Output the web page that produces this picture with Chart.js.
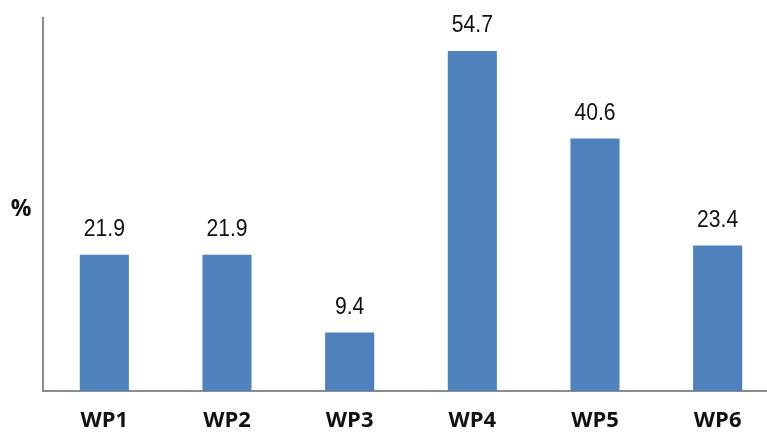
<!DOCTYPE html>
<html>
<head>
<meta charset="utf-8">
<script src="https://cdn.jsdelivr.net/npm/chart.js@4.4.1/dist/chart.umd.min.js"></script>
<style>
  html, body { margin: 0; padding: 0; background: #fff; overflow: hidden; }
  #wrap { width: 800px; height: 432px; position: relative; }
</style>
</head>
<body>
<div id="wrap"><canvas id="chart"></canvas></div>
<script>
const categories = ["WP1", "WP2", "WP3", "WP4", "WP5", "WP6"];
const percentValues = [21.9, 21.9, 9.4, 54.7, 40.6, 23.4];
const valueLabels = ["21.9", "21.9", "9.4", "54.7", "40.6", "23.4"];
const axisLabel = "%";

// value labels above the bars + the "%" axis label
const labelsPlugin = {
  id: "barLabels",
  afterDatasetsDraw(chart) {
    const ctx = chart.ctx;
    const meta = chart.getDatasetMeta(0);
    ctx.save();
    ctx.fillStyle = "#111";
    ctx.font = "24px 'Liberation Sans', sans-serif";
    ctx.textAlign = "center";
    ctx.textBaseline = "alphabetic";
    meta.data.forEach((bar, i) => {
      // squeeze horizontally to look like a narrow face
      ctx.save();
      ctx.translate(bar.x, bar.y - 19);
      ctx.scale(0.88, 1);
      ctx.fillText(valueLabels[i], 0, 0);
      ctx.restore();
    });
    ctx.textBaseline = "middle";
    ctx.font = "bold 23px 'Open Sans', sans-serif";
    ctx.fillText(axisLabel, 21, 209);
    ctx.restore();
  }
};

const chart = new Chart(document.getElementById("chart"), {
  type: "bar",
  data: {
    labels: categories,
    datasets: [{
      data: percentValues,
      backgroundColor: "#4F81BD",
      barPercentage: 0.4,
      categoryPercentage: 1
    }]
  },
  options: {
    responsive: true,
    maintainAspectRatio: false,
    animation: false,
    layout: { padding: { top: 18, right: 21, left: 0, bottom: 0 } },
    plugins: {
      legend: { display: false },
      tooltip: { enabled: false }
    },
    scales: {
      x: {
        grid: { display: false, drawTicks: false },
        border: { color: "#8c8c8c", width: 2 },
        ticks: {
          color: "#111",
          padding: 17,
          font: { family: "'Open Sans', sans-serif", size: 22, weight: "bold" }
        },
        afterFit(scale) { scale.height = 41; }
      },
      y: {
        min: 0,
        max: 60,
        grid: { display: false, drawTicks: false },
        border: { color: "#8c8c8c", width: 2 },
        ticks: { display: false },
        afterFit(scale) { scale.width = 43; }
      }
    }
  },
  plugins: [labelsPlugin]
});
</script>
</body>
</html>
